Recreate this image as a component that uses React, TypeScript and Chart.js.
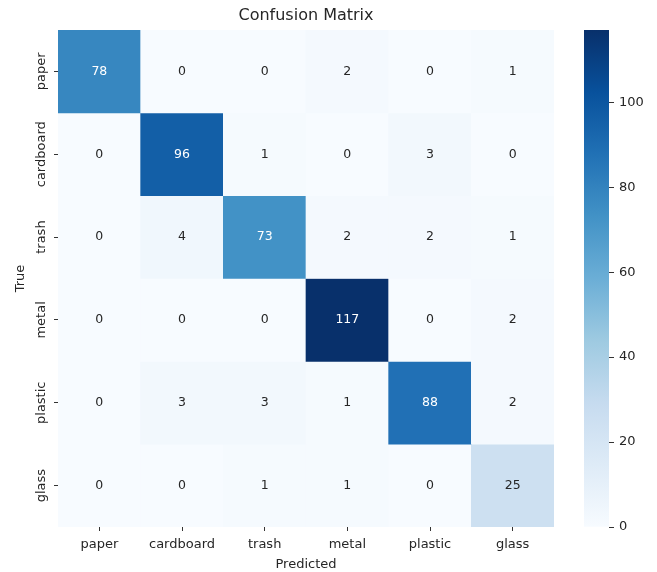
import React, { useEffect, useRef } from "react";
import { Chart, registerables } from "chart.js";

Chart.register(...registerables);

const predictedLabels = ["paper", "cardboard", "trash", "metal", "plastic", "glass"];
const trueLabels = ["paper", "cardboard", "trash", "metal", "plastic", "glass"];

const rowPaper = [78, 0, 0, 2, 0, 1];
const rowCardboard = [0, 96, 1, 0, 3, 0];
const rowTrash = [0, 4, 73, 2, 2, 1];
const rowMetal = [0, 0, 0, 117, 0, 2];
const rowPlastic = [0, 3, 3, 1, 88, 2];
const rowGlass = [0, 0, 1, 1, 0, 25];

const matrixRows = [rowPaper, rowCardboard, rowTrash, rowMetal, rowPlastic, rowGlass];

const colorbarTicks = [0, 20, 40, 60, 80, 100];
const vmin = 0;
const vmax = 117;

const FONT = "'DejaVu Sans', sans-serif";
const TEXT = "#262626";

const BLUES = ["#f7fbff", "#deebf7", "#c6dbef", "#9ecae1", "#6baed6", "#4292c6", "#2171b5", "#08519c", "#08306b"];

function hexToRgb(h: string) {
  const n = parseInt(h.slice(1), 16);
  return [(n >> 16) & 255, (n >> 8) & 255, n & 255];
}
function bluesRgb(t: number) {
  const tt = Math.max(0, Math.min(1, t));
  const s = tt * 8;
  const i = Math.min(7, Math.floor(s));
  const f = s - i;
  const a = hexToRgb(BLUES[i]);
  const b = hexToRgb(BLUES[i + 1]);
  return [0, 1, 2].map((k) => Math.round(a[k] + (b[k] - a[k]) * f));
}
function blues(v: number) {
  const c = bluesRgb((v - vmin) / (vmax - vmin));
  return `rgb(${c[0]},${c[1]},${c[2]})`;
}
function lum(v: number) {
  const c = bluesRgb((v - vmin) / (vmax - vmin)).map((x) => {
    const s = x / 255;
    return s <= 0.03928 ? s / 12.92 : Math.pow((s + 0.055) / 1.055, 2.4);
  });
  return 0.2126 * c[0] + 0.7152 * c[1] + 0.0722 * c[2];
}

const annotatePlugin = {
  id: "annotate",
  afterDatasetsDraw(chart: any) {
    const ctx = chart.ctx;
    ctx.save();
    ctx.font = `12.5px ${FONT}`;
    ctx.textAlign = "center";
    ctx.textBaseline = "middle";
    chart.data.datasets.forEach((ds: any, di: number) => {
      const meta = chart.getDatasetMeta(di);
      meta.data.forEach((el: any, j: number) => {
        const v = matrixRows[di][j];
        const { x, y, base } = el.getProps(["x", "y", "base"], true);
        ctx.fillStyle = lum(v) > 0.408 ? TEXT : "#ffffff";
        ctx.fillText(String(v), x, (y + base) / 2);
      });
    });
    ctx.restore();
  },
};

export default function App() {
  const mainRef = useRef<HTMLCanvasElement>(null);
  const cbRef = useRef<HTMLCanvasElement>(null);

  useEffect(() => {
    const measure = document.createElement("canvas").getContext("2d")!;
    measure.font = `13px ${FONT}`;
    const widest = Math.max(...trueLabels.map((l) => measure.measureText(l).width));
    const yPad = 12 - widest / 2;

    const main = new Chart(mainRef.current!, {
      type: "bar",
      data: {
        labels: predictedLabels,
        datasets: matrixRows.map((row, r) => ({
          label: trueLabels[r],
          data: row.map(() => [r, r + 1]),
          backgroundColor: row.map((v) => blues(v)),
          borderWidth: 0,
          barPercentage: 1,
          categoryPercentage: 1,
          grouped: false,
        })) as any,
      },
      options: {
        responsive: false,
        animation: false,
        devicePixelRatio: 1,
        layout: { padding: { left: 0, right: 103, top: 0, bottom: 0 } },
        plugins: {
          legend: { display: false },
          tooltip: { enabled: false },
          title: {
            display: true,
            fullSize: false,
            text: "Confusion Matrix",
            color: TEXT,
            font: { family: FONT, size: 16, weight: "normal" },
            padding: { top: 6.4, bottom: 4.4 },
          },
        },
        scales: {
          x: {
            type: "category",
            grid: { display: true, drawOnChartArea: false, tickLength: 4, color: "#333", offset: false },
            border: { display: false },
            ticks: { color: TEXT, font: { family: FONT, size: 13 }, padding: 6, maxRotation: 0, minRotation: 0 },
            title: {
              display: true,
              text: "Predicted",
              color: TEXT,
              font: { family: FONT, size: 13 },
              padding: { top: 0, bottom: 0 },
            },
            afterFit: (s: any) => {
              s.height = 45;
            },
          },
          y: {
            type: "linear",
            min: 0,
            max: 6,
            reverse: true,
            afterBuildTicks: (s: any) => {
              s.ticks = trueLabels.map((_, i) => ({ value: i + 0.5 }));
            },
            grid: { display: true, drawOnChartArea: false, tickLength: 4, color: "#333" },
            border: { display: false },
            ticks: {
              color: TEXT,
              font: { family: FONT, size: 13 },
              minRotation: 90,
              maxRotation: 90,
              crossAlign: "center",
              padding: yPad,
              callback: (v: any) => trueLabels[Math.floor(Number(v))],
            },
            title: {
              display: true,
              text: "True",
              color: TEXT,
              font: { family: FONT, size: 13 },
              padding: { top: 13, bottom: 0 },
            },
            afterFit: (s: any) => {
              s.width = 58;
            },
          },
        },
      } as any,
      plugins: [annotatePlugin],
    });

    const cb = new Chart(cbRef.current!, {
      type: "bar",
      data: {
        labels: ["scale"],
        datasets: [
          {
            data: [[vmin, vmax]] as any,
            backgroundColor: (c: any) => {
              const area = c.chart.chartArea;
              if (!area) return BLUES[0];
              const g = c.chart.ctx.createLinearGradient(0, area.bottom, 0, area.top);
              BLUES.forEach((col, i) => g.addColorStop(i / 8, col));
              return g;
            },
            borderWidth: 0,
            barPercentage: 1,
            categoryPercentage: 1,
          },
        ],
      },
      options: {
        responsive: false,
        animation: false,
        devicePixelRatio: 1,
        layout: { padding: { left: 24, right: 0, top: 30, bottom: 45 } },
        plugins: { legend: { display: false }, tooltip: { enabled: false } },
        scales: {
          x: { display: false },
          y: {
            position: "right",
            min: vmin,
            max: vmax,
            afterBuildTicks: (s: any) => {
              s.ticks = colorbarTicks.map((v) => ({ value: v }));
            },
            grid: { display: true, drawOnChartArea: false, tickLength: 5, color: "#333" },
            border: { display: false },
            ticks: { color: TEXT, font: { family: FONT, size: 13 }, padding: 5 },
            afterFit: (s: any) => {
              s.width = 48;
            },
          },
        },
      } as any,
    });

    return () => {
      main.destroy();
      cb.destroy();
    };
  }, []);

  return (
    <div style={{ position: "absolute", left: 0, top: 0, width: 657, height: 572, background: "#fff" }}>
      <canvas ref={mainRef} width={657} height={572} style={{ position: "absolute", left: 0, top: 0 }} />
      <canvas ref={cbRef} width={97} height={572} style={{ position: "absolute", left: 560, top: 0 }} />
    </div>
  );
}
